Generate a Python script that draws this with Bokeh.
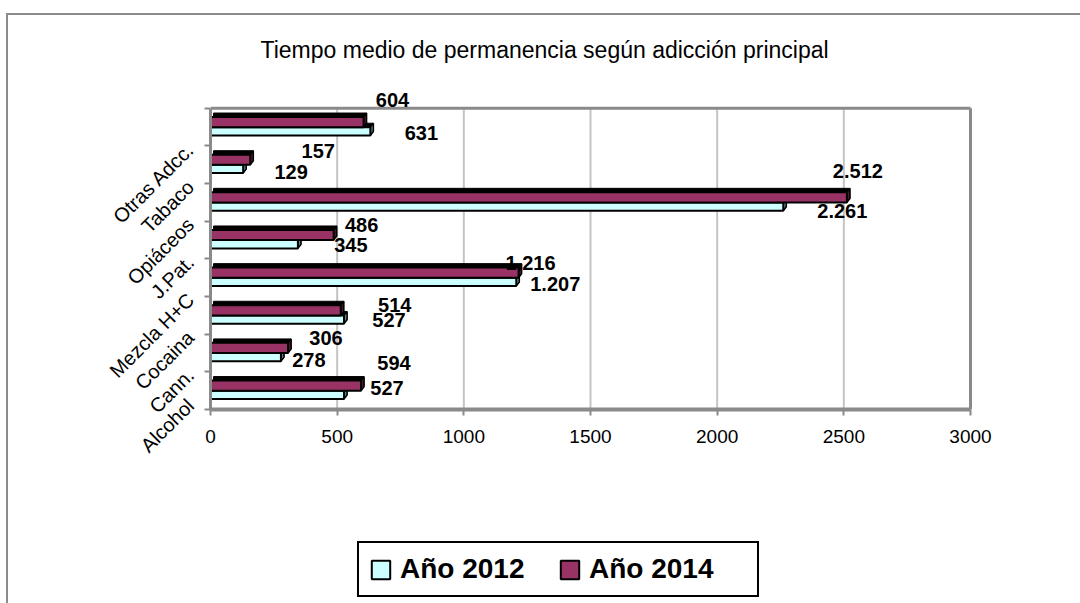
import math
from bokeh.plotting import figure
from bokeh.layouts import column
from bokeh.models import (ColumnDataSource, Range1d, FixedTicker, Legend, LegendItem, Title)
from bokeh.core.properties import value
from bokeh.embed import file_html
from bokeh.resources import INLINE

# ---- data (bottom to top) ----
categories = ["Alcohol", "Cann.", "Cocaina", "Mezcla H+C", "J.Pat.", "Opiáceos", "Tabaco", "Otras Adcc."]
v2012 = [527, 278, 527, 1207, 345, 2261, 129, 631]
v2014 = [594, 306, 514, 1216, 486, 2512, 157, 604]
series_names = ["Año 2012", "Año 2014"]
x_ticks = [0, 500, 1000, 1500, 2000, 2500, 3000]
x_max = 3000

# label offsets in screen px (x right, y up)
off2012_x = [43, 28, 45, 39, 53, 59, 48, 51]
off2012_y = [7, -3, 0, -2, -1, -4, -3, -2]
off2014_x = [33, 38, 54, 12, 28, 11, 68, 29]
off2014_y = [23, 10, 5, 10, 10, 26, 9, 22]

C2012 = "#CCFFFF"
C2014 = "#993366"
SIDE2012 = "#5f8585"
SIDE2014 = "#4a1830"
GRAY = "#8a8a8a"
FONT = "Liberation Sans"

def fmt(v):
    return f"{v:,}".replace(",", ".")

n = len(categories)
y = [i + 0.5 for i in range(n)]
h_lo12, h_hi12 = -0.22, 0.0
h_lo14, h_hi14 = 0.0, 0.27
dx, dy = 12.0, 0.105

p = figure(width=1072, height=441, output_backend="svg", toolbar_location=None,
           x_range=Range1d(0, x_max * 763 / 760), y_range=Range1d(0, 8.713),
           min_border_left=202, min_border_right=107, min_border_top=65, min_border_bottom=47)
p.background_fill_color = "white"
p.border_fill_color = "white"
p.outline_line_color = None
p.xgrid.grid_line_color = None
p.ygrid.grid_line_color = None

# grid lines and plot-area border drawn from the ticks
grid_x = x_ticks[1:-1]
p.segment(x0=grid_x, x1=grid_x, y0=[0] * len(grid_x), y1=[n] * len(grid_x),
          line_color="#c4c4c4", line_width=2)
p.segment(x0=[0, x_max], x1=[x_max, x_max], y0=[n, 0], y1=[n, n],
          line_color=GRAY, line_width=3)

def draw(vals, lo, hi, color, side):
    bottoms = [yy + lo for yy in y]
    tops = [yy + hi for yy in y]
    src = ColumnDataSource(dict(right=vals, bottom=bottoms, top=tops,
                                rb=[v + dx for v in vals],
                                bb=[b + dy for b in bottoms], tb=[t + dy for t in tops]))
    p.quad(left=dx, right="rb", bottom="bb", top="tb", source=src,
           fill_color="black", line_color="black", line_width=1)
    xs = [[v, v + dx, v + dx, v] for v in vals]
    ys = [[b, b + dy, t + dy, t] for b, t in zip(bottoms, tops)]
    p.patches(xs, ys, fill_color=side, line_color="black", line_width=1.5)
    p.quad(left=0, right="right", bottom="bottom", top="top", source=src,
           fill_color=color, line_color="black", line_width=2)

draw(v2012, h_lo12, h_hi12, C2012, SIDE2012)
draw(v2014, h_lo14, h_hi14, C2014, SIDE2014)

# data labels
lab12 = ColumnDataSource(dict(x=v2012, y=[yy + (h_lo12 + h_hi12) / 2 for yy in y],
                              t=[fmt(v) for v in v2012], xo=off2012_x, yo=[-o for o in off2012_y]))
lab14 = ColumnDataSource(dict(x=v2014, y=[yy + (h_lo14 + h_hi14) / 2 for yy in y],
                              t=[fmt(v) for v in v2014], xo=off2014_x, yo=[-o for o in off2014_y]))
for s in (lab12, lab14):
    p.text(x="x", y="y", text="t", x_offset="xo", y_offset="yo", source=s,
           text_font=value(FONT), text_font_size="20px", text_font_style="bold",
           text_color="black", text_align="center", text_baseline="middle")

# axes
p.xaxis.ticker = FixedTicker(ticks=x_ticks)
p.xaxis.bounds = (0, x_max)
p.xaxis.axis_line_color = GRAY
p.xaxis.axis_line_width = 4
p.xaxis.major_tick_line_color = GRAY
p.xaxis.major_tick_line_width = 2
p.xaxis.major_tick_out = 6
p.xaxis.major_tick_in = 0
p.xaxis.minor_tick_line_color = None
p.xaxis.major_label_text_font = FONT
p.xaxis.major_label_text_font_size = "19px"
p.xaxis.major_label_text_color = "black"
p.xaxis.major_label_standoff = 14

p.yaxis.ticker = FixedTicker(ticks=list(range(n + 1)))
p.yaxis.bounds = (0, n)
p.yaxis.major_label_overrides = {i: (categories[i] if i < n else "") for i in range(n + 1)}
p.yaxis.major_label_orientation = math.pi / 4
p.yaxis.axis_line_color = GRAY
p.yaxis.axis_line_width = 3
p.yaxis.major_tick_line_color = GRAY
p.yaxis.major_tick_line_width = 2
p.yaxis.major_tick_out = 6
p.yaxis.major_tick_in = 0
p.yaxis.minor_tick_line_color = None
p.yaxis.major_label_text_font = FONT
p.yaxis.major_label_text_font_size = "20px"
p.yaxis.major_label_text_color = "black"
p.yaxis.major_label_standoff = 14

# title
p.add_layout(Title(text="Tiempo medio de permanencia según adicción principal", align="left",
                   text_font=FONT, text_font_size="23px", text_font_style="normal",
                   text_color="black", offset=50, standoff=38), "above")

# legend figure
q = figure(width=1072, height=147, output_backend="svg", toolbar_location=None,
           x_axis_type=None, y_axis_type=None, x_range=Range1d(0, 1), y_range=Range1d(0, 1),
           min_border_left=0, min_border_right=0, min_border_top=0, min_border_bottom=0)
q.outline_line_color = None
q.xgrid.grid_line_color = None
q.ygrid.grid_line_color = None
q.background_fill_color = "white"
q.border_fill_color = "white"
# swatch renderers for the legend only (kept outside the visible range)
g12 = q.quad(left=[5], right=[6], bottom=[5], top=[6], fill_color=C2012, line_color="black", line_width=2)
g14 = q.quad(left=[5], right=[6], bottom=[5], top=[6], fill_color=C2014, line_color="black", line_width=2)
legend = Legend(items=[LegendItem(label=series_names[0], renderers=[g12]),
                       LegendItem(label=series_names[1], renderers=[g14])],
                location=(147, 6), orientation="horizontal",
                label_text_font=FONT, label_text_font_size="28px", label_text_font_style="bold",
                label_text_color="black", glyph_width=23, glyph_height=23,
                label_width=158, label_standoff=8,
                border_line_color="black", border_line_width=2, border_line_alpha=1,
                padding=10, spacing=0, margin=0,
                background_fill_color="white", background_fill_alpha=1)
q.add_layout(legend)

layout = column(p, q, spacing=0)
layout.styles = {"margin-left": "6px", "margin-top": "13px",
                 "border-left": "2px solid #8c8c8c", "border-top": "2px solid #8c8c8c"}

open("out.html", "w").write(file_html(layout, INLINE))
